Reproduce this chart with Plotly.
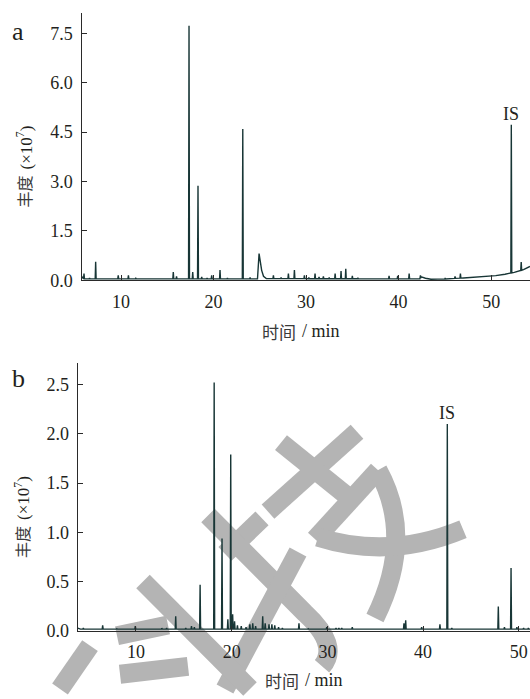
import numpy as np
import plotly.graph_objects as go

W, H = 530, 699

# ---------------- Panel a data (time in min, abundance x10^7) ----------------
a_base_t = [5.73, 5.9, 24.75, 24.92, 25.05, 25.2, 25.4, 25.7, 42.3, 42.45, 42.9, 43.5,
            45.0, 47.0, 49.0, 50.5, 51.5, 52.5, 53.5, 54.2]
a_base_y = [0.12, 0.04, 0.04, 0.81, 0.55, 0.30, 0.12, 0.05, 0.04, 0.10, 0.06, 0.03,
            0.04, 0.07, 0.10, 0.14, 0.18, 0.24, 0.32, 0.42]
a_peak_t = [6.0, 6.6, 7.26, 8.3, 9.7, 10.8, 11.6, 12.5, 13.5, 14.5, 15.65, 16.0,
            17.35, 17.75, 18.32, 18.72, 19.3, 19.8, 20.7, 21.5, 22.3, 23.16, 23.95,
            26.47, 27.3, 28.09, 28.74, 29.82, 30.3, 30.97, 31.4, 31.87, 32.5, 33.14,
            33.78, 34.29, 35.0, 35.6, 36.5, 37.5, 38.97, 39.9, 41.14, 42.36, 45.03,
            46.1, 46.68, 52.18, 53.25]
a_peak_y = [0.20, 0.07, 0.56, 0.05, 0.15, 0.15, 0.06, 0.05, 0.05, 0.05, 0.25, 0.12,
            7.73, 0.25, 2.87, 0.10, 0.07, 0.15, 0.31, 0.07, 0.06, 4.59, 0.08,
            0.15, 0.08, 0.20, 0.31, 0.15, 0.08, 0.20, 0.10, 0.12, 0.08, 0.20,
            0.28, 0.35, 0.13, 0.07, 0.05, 0.05, 0.13, 0.13, 0.20, 0.15, 0.07,
            0.12, 0.20, 4.72, 0.55]
a_is_time = 52.18
a_is_top = 4.72

# ---------------- Panel b data ----------------
b_base_t = [3.91, 4.2, 51.17]
b_base_y = [0.03, 0.02, 0.02]
b_peak_t = [4.5, 6.52, 8.0, 9.93, 11.5, 12.7, 13.2, 14.15, 15.2, 15.8, 16.1, 16.7,
            18.17, 18.99, 19.6, 19.9, 20.1, 20.3, 20.6, 21.0, 21.5, 21.9, 22.2, 22.5,
            23.24, 23.5, 23.9, 24.2, 24.5, 24.9, 25.3, 27.03, 28.0, 29.93, 30.9, 31.2,
            31.5, 32.6, 36.7, 38.0, 38.18, 39.85, 41.76, 42.53, 43.0, 45.1, 47.86,
            48.5, 49.19, 49.8, 50.5, 51.0]
b_peak_y = [0.03, 0.06, 0.025, 0.05, 0.025, 0.03, 0.03, 0.15, 0.03, 0.05, 0.04, 0.47,
            2.52, 0.94, 0.12, 1.79, 0.17, 0.10, 0.06, 0.05, 0.04, 0.07, 0.08, 0.05,
            0.15, 0.08, 0.07, 0.07, 0.06, 0.04, 0.03, 0.08, 0.025, 0.04, 0.03, 0.03,
            0.03, 0.04, 0.025, 0.08, 0.11, 0.04, 0.07, 2.10, 0.03, 0.025, 0.25,
            0.04, 0.64, 0.04, 0.03, 0.03]
b_is_time = 42.53
b_is_top = 2.10

a_yticks = [0.0, 1.5, 3.0, 4.5, 6.0, 7.5]
b_yticks = [0.0, 0.5, 1.0, 1.5, 2.0, 2.5]
x_ticks = [10, 20, 30, 40, 50]

LINE = "#183636"
TXT = "#231f20"
SERIF = "Liberation Serif"
CJK = "Noto Sans CJK SC"


def build(base_t, base_y, peak_t, peak_y, hw=0.05):
    xs = list(base_t)
    ys = list(base_y)
    for t, y in zip(peak_t, peak_y):
        b = float(np.interp(t, base_t, base_y))
        xs += [t - hw, t, t + hw]
        ys += [b, y, b]
    order = np.argsort(xs, kind="stable")
    return np.array(xs)[order], np.array(ys)[order]


ax, ay = build(a_base_t, a_base_y, a_peak_t, a_peak_y)
bx, by = build(b_base_t, b_base_y, b_peak_t, b_peak_y)

fig = go.Figure()
fig.add_trace(go.Scatter(x=ax, y=ay, mode="lines", line=dict(color=LINE, width=1.4),
                         xaxis="x", yaxis="y", showlegend=False, hoverinfo="skip"))
fig.add_trace(go.Scatter(x=bx, y=by, mode="lines", line=dict(color=LINE, width=1.4),
                         xaxis="x2", yaxis="y2", showlegend=False, hoverinfo="skip"))


def px(x):
    return x / W


def py(y):
    return 1 - y / H


axis_common = dict(showline=True, linecolor="#2a2a2a", linewidth=1.3, ticks="inside",
                   ticklen=5, tickwidth=1.2, tickcolor="#2a2a2a", showgrid=False,
                   zeroline=False, tickfont=dict(family=SERIF, size=18, color=TXT),
                   fixedrange=True)

fig.update_layout(
    width=W, height=H, margin=dict(l=0, r=0, t=0, b=0),
    paper_bgcolor="white", plot_bgcolor="rgba(0,0,0,0)",
    xaxis=dict(domain=[px(81.5), 1], range=[5.73, 54.2], tickvals=x_ticks, anchor="y",
               ticklabelstandoff=5, **axis_common),
    yaxis=dict(domain=[py(284.3), py(13.3)], range=[0, 8.11], tickvals=a_yticks,
               ticktext=[f"{v:.1f}" for v in a_yticks], anchor="x",
               ticklabelstandoff=4, **axis_common),
    xaxis2=dict(domain=[px(77.7), 1], range=[3.91, 51.17], tickvals=x_ticks, anchor="y2",
                ticklabelstandoff=4, **axis_common),
    yaxis2=dict(domain=[py(640.3), py(368)], range=[0, 2.72], tickvals=b_yticks,
                ticktext=[f"{v:.1f}" for v in b_yticks], anchor="x2",
                ticklabelstandoff=4, **axis_common),
)

ann = []


def add_text(x, y, txt, size, family, color=TXT, ang=0, xa="center", ya="middle"):
    ann.append(dict(x=px(x), y=py(y), xref="paper", yref="paper", text=txt,
                    showarrow=False, textangle=ang, xanchor=xa, yanchor=ya,
                    font=dict(family=family, size=size, color=color)))


# y-axis titles (rotated, split so Latin part is serif)
add_text(24, 176, "丰度", 16, CJK, "#3a3a3a", -90, ya="top")
add_text(24, 174, "(×10<sup>7</sup>)", 17, SERIF, TXT, -90, ya="bottom")
add_text(22.5, 532, "丰度", 16, CJK, "#3a3a3a", -90, ya="top")
add_text(22.5, 530, "(×10<sup>7</sup>)", 17, SERIF, TXT, -90, ya="bottom")
# x-axis titles
add_text(298, 336, "时间", 17, CJK, "#3a3a3a", xa="right")
add_text(300, 336, "/ min", 18, SERIF, TXT, xa="left")
add_text(301, 690, "时间", 17, CJK, "#3a3a3a", xa="right")
add_text(303, 690, "/ min", 18, SERIF, TXT, xa="left")
# panel labels
add_text(18, 32, "a", 26, SERIF)
add_text(18, 384, "b", 26, SERIF)

ann.append(dict(x=a_is_time, y=a_is_top, xref="x", yref="y", text="IS", showarrow=False,
                yanchor="bottom", xanchor="center", yshift=-1,
                font=dict(family=SERIF, size=18, color=TXT)))
ann.append(dict(x=b_is_time, y=b_is_top, xref="x2", yref="y2", text="IS", showarrow=False,
                yanchor="bottom", xanchor="center", yshift=-1,
                font=dict(family=SERIF, size=18, color=TXT)))
fig.update_layout(annotations=ann)

# ---------------- watermark (decorative gray strokes, pixel coordinates) ----------------
WM = [
    "M 357 438 L 268 519",
    "M 262 526 L 225 562",
    "M 281 449 L 347 503",
    "M 208 523 L 305 622 Q 340 655 322 676",
    "M 315 547 L 378 477",
    "M 378 477 Q 415 545 375 627",
    "M 318 545 Q 390 568 463 537",
    "M 298 560 L 225 699",
    "M 143 590 L 250 699",
    "M 117 645 L 168 634",
    "M 120 684 L 188 676",
    "M 90 655 L 60 699",
]


def to_paper(path):
    out = []
    toks = path.split()
    i = 0
    while i < len(toks):
        t = toks[i]
        if t.isalpha():
            out.append(t)
            i += 1
        else:
            x = float(toks[i]); y = float(toks[i + 1])
            out.append(f"{px(x):.5f},{py(y):.5f}")
            i += 2
    return " ".join(out)


shapes = []
for p in WM:
    shapes.append(dict(type="path", path=to_paper(p), xref="paper", yref="paper",
                       line=dict(color="#b4b4b4", width=19), fillcolor="rgba(0,0,0,0)",
                       layer="below"))
fig.update_layout(shapes=shapes)

fig.write_html("out.html")
